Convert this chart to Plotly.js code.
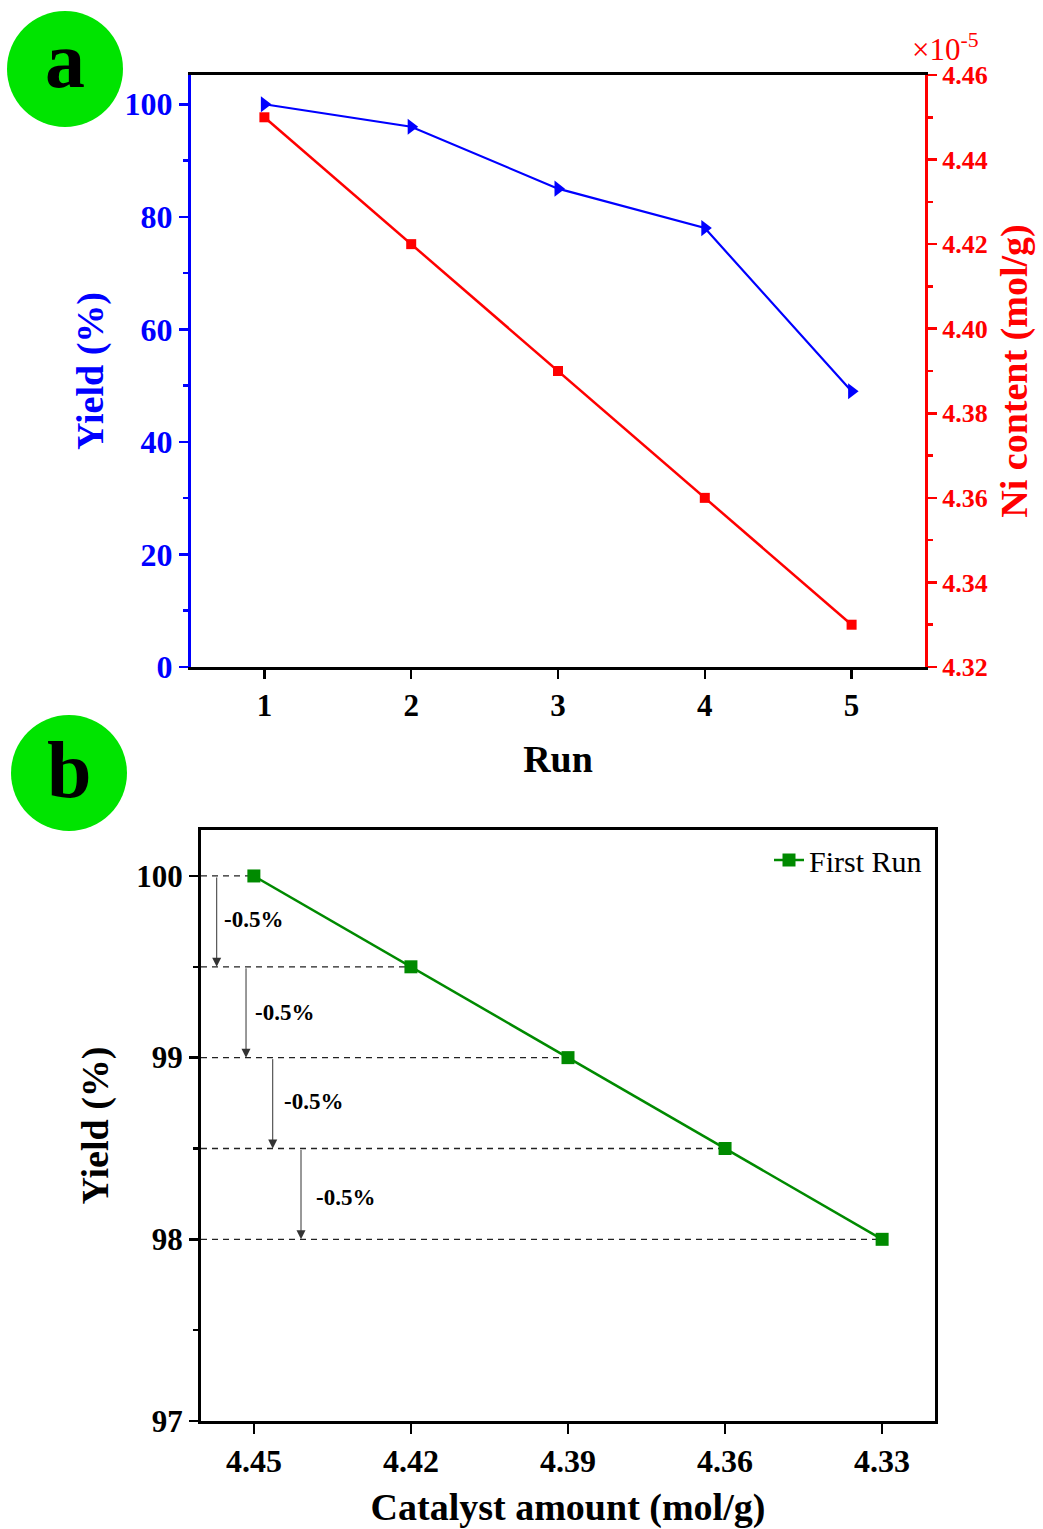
<!DOCTYPE html>
<html>
<head>
<meta charset="utf-8">
<script src="https://cdn.plot.ly/plotly-3.0.1.min.js"></script>
<style>html,body{margin:0;padding:0;background:#fff;}#chart{width:1043px;height:1529px;}</style>
</head>
<body>
<div id="chart"></div>
<script>
// ---- Data ----
const runs = [1, 2, 3, 4, 5];
const yieldByRun = [100, 96, 85, 78, 49];
const niContent = [4.45, 4.42, 4.39, 4.36, 4.33]; // ×10^-5 mol/g
const catalystAmount = [4.45, 4.42, 4.39, 4.36, 4.33];
const catalystLabels = ['4.45', '4.42', '4.39', '4.36', '4.33'];
const firstRunYield = [100, 99.5, 99, 98.5, 98];
const dropLabels = ['-0.5%', '-0.5%', '-0.5%', '-0.5%'];
const arrowX = [4.4571, 4.4515, 4.4464, 4.4410];
const dropLabelX = [4.4560, 4.4501, 4.4447, 4.4386];
const dropLabelY = [99.76, 99.25, 98.76, 98.23];

const serif = 'Liberation Serif, Times New Roman, serif';
const BLUE = '#0000ff', RED = '#ff0000', GREEN = '#008a00', CIRCLE = '#00e400';
const xRange2 = [4.4601, 4.3199];

const traces = [
  {x: runs, y: yieldByRun, xaxis: 'x', yaxis: 'y', mode: 'lines+markers', showlegend: false,
   line: {color: BLUE, width: 2.2}, marker: {symbol: 'triangle-right', size: 14, color: BLUE}},
  {x: runs, y: niContent, xaxis: 'x', yaxis: 'y2', mode: 'lines+markers', showlegend: false,
   line: {color: RED, width: 2.5}, marker: {symbol: 'square', size: 10, color: RED}}
];
// dashed guide lines from the left axis to each point
firstRunYield.forEach((v, i) => {
  traces.push({x: [xRange2[0], catalystAmount[i]], y: [v, v], xaxis: 'x2', yaxis: 'y3',
    mode: 'lines', showlegend: false, hoverinfo: 'skip',
    line: {color: '#222', width: 1.3, dash: '6px,5px'}});
});
traces.push({x: catalystAmount, y: firstRunYield, xaxis: 'x2', yaxis: 'y3', mode: 'lines+markers',
  name: 'First Run', line: {color: GREEN, width: 2.5}, marker: {symbol: 'square', size: 13, color: GREEN}});

const boldTick = (size, color) => ({family: serif, size: size, color: color, weight: 'bold'});
const titleFont = (color) => ({family: serif, size: 38, color: color, weight: 'bold'});

const annotations = [];
for (let i = 0; i < dropLabels.length; i++) {
  annotations.push({x: arrowX[i], y: firstRunYield[i + 1], ax: arrowX[i], ay: firstRunYield[i],
    xref: 'x2', yref: 'y3', axref: 'x2', ayref: 'y3', showarrow: true, arrowhead: 2,
    arrowsize: 1.8, arrowwidth: 1, arrowcolor: '#333', text: '', standoff: 0, startstandoff: 0});
  annotations.push({x: dropLabelX[i], y: dropLabelY[i], xref: 'x2', yref: 'y3', xanchor: 'left',
    yanchor: 'middle', showarrow: false, text: dropLabels[i], font: boldTick(23, '#000')});
}
annotations.push({xref: 'paper', yref: 'paper', x: 945 / 1043, y: 1 - 47 / 1529, xanchor: 'center',
  yanchor: 'middle', showarrow: false, text: '×10<sup>-5</sup>', font: {family: serif, size: 31, color: RED}});
annotations.push({xref: 'paper', yref: 'paper', x: 65 / 1043, y: 1 - 60 / 1529, xanchor: 'center',
  yanchor: 'middle', showarrow: false, text: 'a', font: {family: serif, size: 80, color: '#000', weight: 'bold'}});
annotations.push({xref: 'paper', yref: 'paper', x: 69 / 1043, y: 1 - 770 / 1529, xanchor: 'center',
  yanchor: 'middle', showarrow: false, text: 'b', font: {family: serif, size: 80, color: '#000', weight: 'bold'}});

const shapes = [
  {type: 'circle', xref: 'paper', yref: 'paper', x0: 7 / 1043, x1: 123 / 1043, y0: 1 - 127 / 1529, y1: 1 - 11 / 1529,
   fillcolor: CIRCLE, line: {width: 0}, layer: 'below'},
  {type: 'circle', xref: 'paper', yref: 'paper', x0: 11 / 1043, x1: 127 / 1043, y0: 1 - 831 / 1529, y1: 1 - 715 / 1529,
   fillcolor: CIRCLE, line: {width: 0}, layer: 'below'}
];

const layout = {
  width: 1043, height: 1529, margin: {l: 0, r: 0, t: 0, b: 0},
  paper_bgcolor: '#fff', plot_bgcolor: 'rgba(0,0,0,0)',
  font: {family: serif},
  showlegend: true,
  legend: {x: 927 / 1043, xanchor: 'right', y: 1 - 834 / 1529, yanchor: 'top', bgcolor: 'rgba(0,0,0,0)',
    font: {family: serif, size: 30, color: '#000'}},
  xaxis: {domain: [191 / 1043, 925 / 1043], anchor: 'y', range: [0.5, 5.5], tickvals: runs,
    ticks: 'outside', ticklen: 9, tickwidth: 2.5, tickcolor: '#000', showline: true, linecolor: '#000', linewidth: 3,
    mirror: true, showgrid: false, zeroline: false, tickfont: boldTick(31, '#000'), automargin: false,
    title: {text: 'Run', font: titleFont('#000'), standoff: 24}},
  yaxis: {domain: [1 - 667 / 1529, 1 - 75 / 1529], anchor: 'x', range: [0, 105.2], dtick: 20, tick0: 0,
    ticks: 'outside', ticklen: 9, tickwidth: 2.5, tickcolor: BLUE, showline: true, linecolor: BLUE, linewidth: 3,
    minor: {dtick: 10, ticks: 'outside', ticklen: 5, tickwidth: 2.5, tickcolor: BLUE, showgrid: false},
    showgrid: false, zeroline: false, tickfont: boldTick(32, BLUE), automargin: false,
    title: {text: 'Yield (%)', font: titleFont(BLUE), standoff: 10}},
  yaxis2: {overlaying: 'y', side: 'right', anchor: 'x', range: [4.32, 4.46], dtick: 0.02, tick0: 4.32, tickformat: '.2f',
    ticks: 'outside', ticklen: 9, tickwidth: 2.5, tickcolor: RED, showline: true, linecolor: RED, linewidth: 3,
    minor: {dtick: 0.01, ticks: 'outside', ticklen: 5, tickwidth: 2.5, tickcolor: RED, showgrid: false},
    showgrid: false, zeroline: false, tickfont: boldTick(26, RED), automargin: false,
    title: {text: 'Ni content (mol/g)', font: titleFont(RED), standoff: 14}},
  xaxis2: {domain: [201 / 1043, 935 / 1043], anchor: 'y3', range: xRange2, tickvals: catalystAmount, ticktext: catalystLabels,
    ticks: 'outside', ticklen: 10, tickwidth: 2.5, tickcolor: '#000', showline: true, linecolor: '#000', linewidth: 3,
    mirror: true, showgrid: false, zeroline: false, tickfont: boldTick(32, '#000'), automargin: false,
    title: {text: 'Catalyst amount (mol/g)', font: titleFont('#000'), standoff: 18}},
  yaxis3: {domain: [1 - 1421 / 1529, 1 - 830 / 1529], anchor: 'x2', range: [97, 100.253], dtick: 1, tick0: 97,
    ticks: 'outside', ticklen: 9, tickwidth: 2.5, tickcolor: '#000', showline: true, linecolor: '#000', linewidth: 3,
    minor: {dtick: 0.5, ticks: 'outside', ticklen: 5, tickwidth: 2.5, tickcolor: '#000', showgrid: false},
    mirror: true, showgrid: false, zeroline: false, tickfont: boldTick(31, '#000'), automargin: false,
    title: {text: 'Yield (%)', font: titleFont('#000'), standoff: 16}},
  annotations: annotations,
  shapes: shapes
};

Plotly.newPlot('chart', traces, layout, {displayModeBar: false, staticPlot: true});
</script>
</body>
</html>
